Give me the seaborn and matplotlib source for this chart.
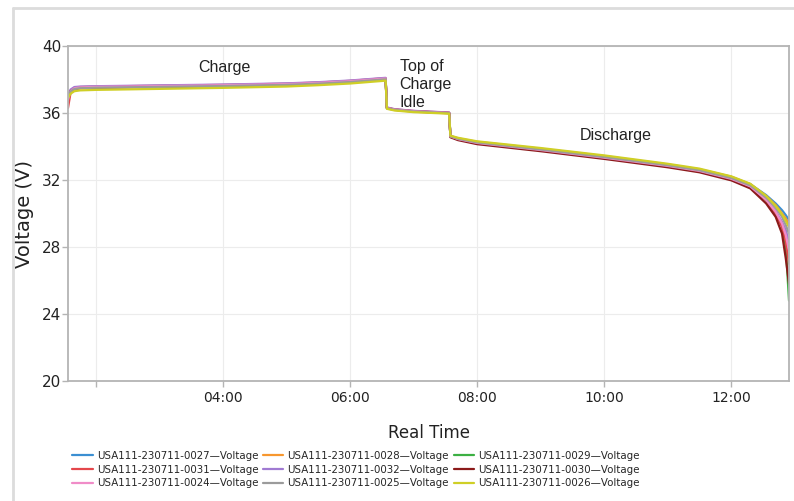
import numpy as np
import pandas as pd
import seaborn as sns
import matplotlib
matplotlib.use("Agg")
import matplotlib.pyplot as plt
from matplotlib.lines import Line2D

# ---- data (hours of real time, volts) ----
T = [1.56, 1.60, 1.66, 1.75, 2.0, 3.0, 4.0, 5.0, 5.5, 6.0, 6.56, 6.58, 6.7, 7.0, 7.56,
     7.58, 7.7, 8.0, 9.0, 10.0, 11.0, 11.5, 12.0, 12.3, 12.55, 12.7, 12.8, 12.86, 12.91]

v0027 = [37.0, 37.3, 37.45, 37.5, 37.53, 37.58, 37.63, 37.70, 37.77, 37.87, 38.03, 36.30, 36.20, 36.10, 36.00,
         34.62, 34.47, 34.25, 33.84, 33.40, 32.90, 32.62, 32.18, 31.75, 31.10, 30.60, 30.20, 29.90, 29.60]
v0028 = [36.9, 37.25, 37.42, 37.47, 37.5, 37.55, 37.6, 37.67, 37.74, 37.84, 38.0, 36.28, 36.18, 36.08, 35.98,
         34.63, 34.49, 34.28, 33.87, 33.43, 32.93, 32.64, 32.2, 31.75, 31.05, 30.5, 30.0, 29.7, 29.3]
v0029 = [37.0, 37.3, 37.45, 37.5, 37.53, 37.58, 37.63, 37.7, 37.77, 37.87, 38.03, 36.3, 36.2, 36.1, 36.0,
         34.6, 34.45, 34.22, 33.8, 33.35, 32.85, 32.55, 32.08, 31.6, 30.8, 30.0, 29.3, 28.0, 24.8]
v0031 = [36.3, 37.2, 37.5, 37.55, 37.58, 37.63, 37.68, 37.75, 37.82, 37.92, 38.08, 36.32, 36.22, 36.12, 36.02,
         34.6, 34.44, 34.2, 33.78, 33.32, 32.82, 32.52, 32.05, 31.6, 30.8, 30.0, 29.2, 28.3, 27.0]
v0032 = [37.1, 37.4, 37.55, 37.58, 37.6, 37.65, 37.7, 37.77, 37.84, 37.94, 38.1, 36.33, 36.23, 36.13, 36.03,
         34.6, 34.44, 34.2, 33.78, 33.32, 32.83, 32.53, 32.06, 31.62, 30.85, 30.15, 29.5, 29.0, 28.3]
v0030 = [36.9, 37.3, 37.45, 37.5, 37.53, 37.58, 37.63, 37.7, 37.77, 37.87, 38.03, 36.3, 36.2, 36.1, 36.0,
         34.55, 34.38, 34.14, 33.72, 33.26, 32.76, 32.46, 31.98, 31.5, 30.6, 29.8, 28.8, 27.3, 25.8]
v0024 = [36.8, 37.3, 37.48, 37.53, 37.56, 37.61, 37.66, 37.73, 37.8, 37.9, 38.06, 36.31, 36.21, 36.11, 36.01,
         34.6, 34.44, 34.21, 33.79, 33.33, 32.84, 32.54, 32.07, 31.62, 30.82, 30.1, 29.4, 28.7, 27.8]
v0025 = [37.0, 37.28, 37.43, 37.48, 37.51, 37.56, 37.61, 37.68, 37.75, 37.85, 38.01, 36.29, 36.19, 36.09, 35.99,
         34.61, 34.46, 34.24, 33.82, 33.37, 32.88, 32.58, 32.12, 31.68, 30.95, 30.35, 29.8, 29.3, 28.8]
v0026 = [36.9, 37.15, 37.3, 37.35, 37.38, 37.44, 37.5, 37.58, 37.66, 37.76, 37.93, 36.25, 36.15, 36.05, 35.96,
         34.65, 34.52, 34.31, 33.91, 33.47, 32.97, 32.68, 32.22, 31.78, 31.05, 30.45, 29.95, 29.55, 29.2]

series_names = ["USA111-230711-0027—Voltage", "USA111-230711-0028—Voltage", "USA111-230711-0029—Voltage",
                "USA111-230711-0031—Voltage", "USA111-230711-0032—Voltage", "USA111-230711-0030—Voltage",
                "USA111-230711-0024—Voltage", "USA111-230711-0025—Voltage", "USA111-230711-0026—Voltage"]
series_values = [v0027, v0028, v0029, v0031, v0032, v0030, v0024, v0025, v0026]
colors = ["#3b8fd2", "#f7972e", "#3cb043", "#e4474b", "#a07ad2", "#8b1a1a", "#f08cc8", "#9b9b9b", "#cfcf26"]

x_ticks = [2, 4, 6, 8, 10, 12]
x_tick_labels = ["", "04:00", "06:00", "08:00", "10:00", "12:00"]
y_ticks = [20, 24, 28, 32, 36, 40]

rows = []
for name, vals in zip(series_names, series_values):
    for t, v in zip(T, vals):
        rows.append((name, t, v))
df = pd.DataFrame(rows, columns=["series", "time", "voltage"])

sns.set_theme(style="white")
plt.rcParams["font.family"] = ["DejaVu Sans"]

fig = plt.figure(figsize=(7.94, 5.01), dpi=100)
ax = fig.add_axes([68 / 794, 1 - 381 / 501, (789 - 68) / 794, (381 - 46) / 501])

sns.lineplot(data=df, x="time", y="voltage", hue="series", hue_order=series_names,
             palette=colors, linewidth=1.6, legend=False, ax=ax, estimator=None, sort=False)

ax.set_xlim(1.56, 12.91)
ax.set_ylim(20, 40)
ax.set_xticks(x_ticks)
ax.set_xticklabels(x_tick_labels)
ax.set_yticks(y_ticks)
ax.grid(True, color="#ececec", linewidth=0.8)
ax.set_axisbelow(True)
for s in ax.spines.values():
    s.set_color("#b4b4b4")
    s.set_linewidth(1.3)
ax.tick_params(axis="both", which="both", length=4, width=1, color="#b4b4b4",
               labelsize=10, labelcolor="#222222", pad=3, bottom=True, left=True)
ax.tick_params(axis="y", labelsize=11, pad=1)
ax.set_xlabel("Real Time", fontsize=12, color="#222222", labelpad=14)
ax.set_ylabel("Voltage (V)", fontsize=14, color="#222222")
ax.yaxis.set_label_coords(-34 / 721, 0.5)

ann_font = ["Liberation Sans", "DejaVu Sans"]
ax.text(4.02, 38.69, "Charge", ha="center", va="center", fontsize=11.5, family=ann_font, color="#222222")
ax.text(6.78, 37.72, "Top of\nCharge\nIdle", ha="left", va="center", fontsize=11.5, family=ann_font,
        color="#222222", linespacing=1.25)
ax.text(10.19, 34.63, "Discharge", ha="center", va="center", fontsize=11.5, family=ann_font, color="#222222")

# legend, row-major order as in the reference
order = [0, 3, 6, 1, 4, 7, 2, 5, 8]
handles = [Line2D([0], [0], color=colors[i], lw=1.6) for i in order]
labels = [series_names[i] for i in order]
fig.legend(handles, labels, loc="upper left", bbox_to_anchor=(72 / 794, 1 - 451 / 501), ncol=3,
           frameon=False, fontsize=7.4, handlelength=2.0, handletextpad=0.4, columnspacing=0.45,
           labelspacing=0.35, borderaxespad=0, borderpad=0)

# outer frame
fig.add_artist(Line2D([13 / 794, 13 / 794], [0, 1 - 7.5 / 501], color="#dcdcdc", lw=2, transform=fig.transFigure))
fig.add_artist(Line2D([13 / 794, 1], [1 - 7.5 / 501, 1 - 7.5 / 501], color="#dcdcdc", lw=2, transform=fig.transFigure))

fig.savefig("out.png", dpi=100)
